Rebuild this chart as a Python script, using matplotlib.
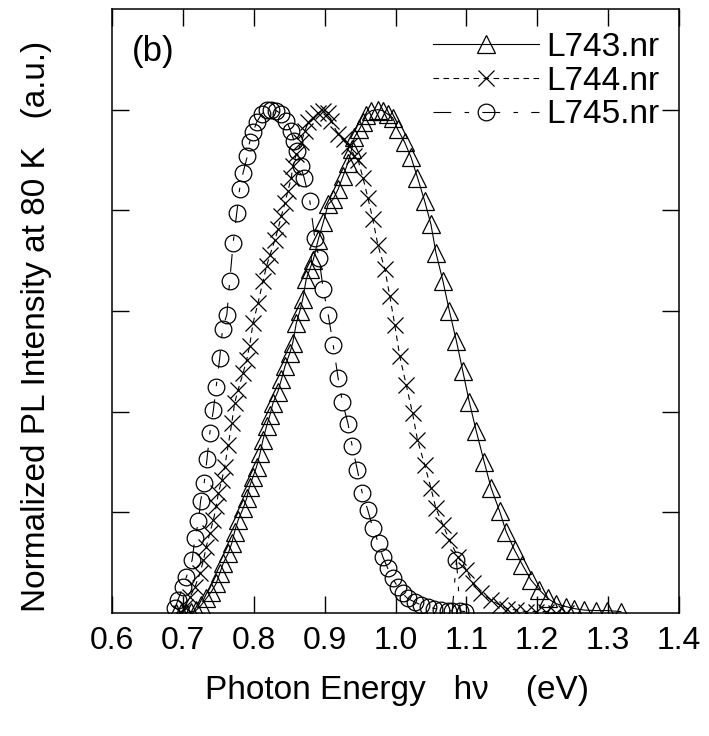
import numpy as np
import matplotlib
matplotlib.use("Agg")
import matplotlib.pyplot as plt

# L743.nr  (triangles)
e743 = [0.690, 0.697, 0.705, 0.712, 0.719, 0.726, 0.733, 0.740, 0.747, 0.752,
        0.757, 0.764, 0.769, 0.773, 0.778, 0.785, 0.790, 0.794, 0.799, 0.804,
        0.809, 0.813, 0.818, 0.823, 0.827, 0.834, 0.839, 0.844, 0.851, 0.855,
        0.860, 0.865, 0.869, 0.874, 0.879, 0.884, 0.891, 0.898, 0.905, 0.912,
        0.919, 0.926, 0.933, 0.938, 0.942, 0.949, 0.954, 0.959, 0.966, 0.975,
        0.982, 0.989, 0.996, 1.003, 1.013, 1.022, 1.031, 1.041, 1.050, 1.057,
        1.067, 1.076, 1.086, 1.095, 1.104, 1.114, 1.125, 1.135, 1.147, 1.156,
        1.168, 1.179, 1.191, 1.203, 1.215, 1.226, 1.240, 1.252, 1.266, 1.283,
        1.299, 1.318]
i743 = [0.000, 0.000, 0.000, 0.002, 0.006, 0.016, 0.029, 0.042, 0.059, 0.079,
        0.099, 0.119, 0.139, 0.162, 0.185, 0.208, 0.228, 0.251, 0.271, 0.291,
        0.318, 0.344, 0.371, 0.394, 0.417, 0.440, 0.464, 0.490, 0.517, 0.537,
        0.576, 0.600, 0.623, 0.663, 0.683, 0.702, 0.742, 0.776, 0.812, 0.822,
        0.842, 0.868, 0.895, 0.921, 0.945, 0.961, 0.975, 0.990, 0.998, 1.000,
        0.998, 0.991, 0.984, 0.961, 0.935, 0.905, 0.865, 0.819, 0.772, 0.716,
        0.659, 0.600, 0.540, 0.480, 0.420, 0.361, 0.301, 0.248, 0.202, 0.162,
        0.125, 0.096, 0.066, 0.046, 0.029, 0.019, 0.013, 0.009, 0.006, 0.005,
        0.005, 0.003]

# L744.nr  (crosses)
e744 = [0.698, 0.703, 0.710, 0.717, 0.724, 0.729, 0.733, 0.738, 0.743, 0.747,
        0.750, 0.755, 0.759, 0.764, 0.769, 0.773, 0.778, 0.785, 0.790, 0.794,
        0.799, 0.806, 0.813, 0.818, 0.823, 0.830, 0.834, 0.839, 0.844, 0.848,
        0.853, 0.855, 0.860, 0.867, 0.872, 0.877, 0.884, 0.891, 0.898, 0.905,
        0.909, 0.919, 0.928, 0.935, 0.942, 0.947, 0.954, 0.961, 0.968, 0.975,
        0.985, 0.992, 0.999, 1.006, 1.015, 1.024, 1.031, 1.041, 1.050, 1.057,
        1.067, 1.076, 1.088, 1.100, 1.109, 1.121, 1.135, 1.147, 1.158, 1.170,
        1.184, 1.198, 1.212, 1.226, 1.240]
i744 = [0.000, 0.013, 0.032, 0.052, 0.079, 0.105, 0.132, 0.159, 0.185, 0.212,
        0.238, 0.265, 0.291, 0.334, 0.378, 0.417, 0.444, 0.477, 0.503, 0.530,
        0.576, 0.616, 0.659, 0.689, 0.712, 0.742, 0.762, 0.789, 0.815, 0.838,
        0.865, 0.888, 0.911, 0.935, 0.958, 0.975, 0.984, 0.994, 0.998, 0.994,
        0.978, 0.951, 0.941, 0.928, 0.908, 0.901, 0.865, 0.825, 0.782, 0.732,
        0.683, 0.629, 0.572, 0.510, 0.454, 0.397, 0.344, 0.295, 0.248, 0.208,
        0.175, 0.145, 0.112, 0.086, 0.059, 0.039, 0.026, 0.016, 0.009, 0.006,
        0.003, 0.003, 0.003, 0.001, 0.000]

# L745.nr  (circles)
e745 = [0.689, 0.693, 0.700, 0.705, 0.713, 0.717, 0.722, 0.725, 0.730, 0.734,
        0.738, 0.743, 0.747, 0.752, 0.756, 0.762, 0.766, 0.771, 0.776, 0.780,
        0.785, 0.791, 0.794, 0.799, 0.804, 0.811, 0.818, 0.825, 0.832, 0.839,
        0.846, 0.852, 0.857, 0.861, 0.866, 0.871, 0.879, 0.886, 0.892, 0.898,
        0.905, 0.912, 0.919, 0.925, 0.933, 0.939, 0.946, 0.953, 0.961, 0.968,
        0.976, 0.982, 0.989, 0.996, 1.003, 1.010, 1.017, 1.027, 1.036, 1.046,
        1.055, 1.064, 1.074, 1.080, 1.086, 1.091, 1.098]
i745 = [0.010, 0.026, 0.052, 0.072, 0.105, 0.149, 0.182, 0.223, 0.258, 0.306,
        0.358, 0.403, 0.450, 0.507, 0.565, 0.593, 0.659, 0.736, 0.795, 0.842,
        0.875, 0.908, 0.935, 0.955, 0.975, 0.991, 0.999, 1.000, 0.998, 0.991,
        0.978, 0.958, 0.938, 0.918, 0.888, 0.865, 0.819, 0.746, 0.706, 0.643,
        0.593, 0.533, 0.467, 0.420, 0.376, 0.331, 0.285, 0.239, 0.204, 0.169,
        0.139, 0.112, 0.089, 0.069, 0.052, 0.039, 0.029, 0.022, 0.016, 0.013,
        0.009, 0.007, 0.005, 0.004, 0.105, 0.004, 0.003]

xticks = [0.6, 0.7, 0.8, 0.9, 1.0, 1.1, 1.2, 1.3, 1.4]
xticklabels = ["0.6", "0.7", "0.8", "0.9", "1.0", "1.1", "1.2", "1.3", "1.4"]

plt.rcParams["font.family"] = ["Liberation Sans", "DejaVu Sans"]

fig = plt.figure(figsize=(7.09, 7.36), dpi=100)
ax = fig.add_axes([0.158, 0.167, 0.7997, 0.8208])

mk = dict(mfc="none", mec="black", mew=0.9, color="black", lw=0.8)
ax.plot(e743, i743, marker="^", ms=13, ls="-", label="L743.nr", **mk)
ax.plot(e744, i744, marker="x", ms=12, dashes=(5, 4), label="L744.nr", **mk)
ax.plot(e745, i745, marker="o", ms=12, dashes=(16, 12, 4, 12), label="L745.nr", **mk)

ax.set_xlim(0.6, 1.4)
ax.set_ylim(0, 1.2)
ax.set_xticks(xticks)
ax.set_xticklabels(xticklabels, fontsize=23)
ax.set_yticks([0.2, 0.4, 0.6, 0.8, 1.0])
ax.set_yticklabels([])
ax.tick_params(direction="in", length=12, width=1, top=True, right=True, pad=9)
for s in ax.spines.values():
    s.set_linewidth(1.1)

ax.set_xlabel("Photon Energy   h\u03bd    (eV)", fontsize=24, va="center")
ax.xaxis.set_label_coords(0.502, -0.128)
ax.set_ylabel("Normalized PL Intensity at 80 K   (a.u.)", fontsize=24, va="center")
ax.yaxis.set_label_coords(-0.134, 0.474)

ax.text(0.035, 0.93, "(b)", transform=ax.transAxes, fontsize=25, va="center", ha="left")

leg = ax.legend(loc="upper right", bbox_to_anchor=(0.965, 0.962), frameon=False,
                fontsize=24, numpoints=1, handlelength=3.2, handletextpad=0.2,
                labelspacing=0.08, borderpad=0, borderaxespad=0)

fig.savefig("out.png", dpi=100)
